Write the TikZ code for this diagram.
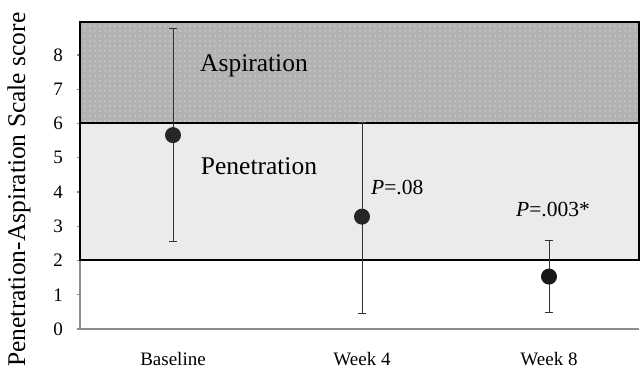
\documentclass[tikz,border=0pt]{standalone}
\usepackage{fontspec}
\setmainfont{Liberation Serif}
\usetikzlibrary{arrows.meta,patterns.meta}
\definecolor{aspfill}{HTML}{B2B2B2}
\definecolor{penfill}{HTML}{EBEBEB}
\definecolor{axisgray}{HTML}{8C8C8C}
\definecolor{markfill}{HTML}{262626}
\tikzset{
  zoneborder/.style={draw=black,line width=2pt},
  axisline/.style={draw=axisgray,line width=1.1pt},
  errbar/.style={draw=black!80,line width=0.9pt,{Bar[width=8pt,line width=0.9pt]}-{Bar[width=8pt,line width=0.9pt]}},
  dotmark/.style={circle,fill=markfill,inner sep=0pt,minimum size=16pt},
  bigtext/.style={font=\fontsize{25.5}{28}\selectfont,inner sep=0pt},
  ptext/.style={font=\fontsize{21.5}{24}\selectfont,inner sep=0pt,anchor=west},
  ticktext/.style={font=\fontsize{19}{22}\selectfont,inner sep=0pt},
}
\begin{document}
\begin{tikzpicture}[x=1pt,y=34.25pt]
\useasboundingbox[fill=white] (0,-1.2263) rectangle (641,9.6058);
% zones
\fill[aspfill] (80,6) rectangle (639,8.96);
\fill[pattern={Dots[distance=5pt,radius=0.6pt]},pattern color=white!85!aspfill] (80,6) rectangle (639,8.96);
\fill[penfill] (80,2) rectangle (639,6);
% axes
\draw[axisline] (80,0) -- (639,0);
\draw[axisline] (80,0) -- (80,8.96);
\foreach \v in {0,...,8}{
  \draw[axisline] (76.5,\v) -- (80,\v);
  \node[ticktext] (t\v) at (58,\v) {\v};
}
% zone borders
\draw[zoneborder] (80,2) rectangle (639,8.96);
\draw[zoneborder] (80,6) -- (639,6);
% error bars
\coordinate (bt) at (173,8.8);
\coordinate (bb) at (173,2.53);
\coordinate (wft) at (362,6.04);
\coordinate (wfb) at (362,0.44);
\coordinate (wet) at (549,2.59);
\coordinate (web) at (549,0.48);
\draw[errbar] (bb) -- (bt);
\draw[errbar] (wfb) -- (wft);
\draw[errbar] (web) -- (wet);
% means
\node[dotmark] (mb) at (173,5.66) {};
\node[dotmark] (mf) at (362,3.28) {};
\node[dotmark,fill=black!90] (me) at (549,1.53) {};
% labels
\node[bigtext] (asp) at (254,7.68) {Aspiration};
\node[bigtext] (pen) at (259,4.76) {Penetration};
\node[ptext] (p1) at (371,4.12) {\textit{P}=.08};
\node[ptext] (p2) at (516,3.50) {\textit{P}=.003*};
\node[ticktext] (xb) at (173,-0.876) {Baseline};
\node[ticktext] (xf) at (362,-0.876) {Week 4};
\node[ticktext] (xe) at (549,-0.876) {Week 8};
\node[bigtext,rotate=90] (ylab) at (19,4.07) {Penetration-Aspiration Scale score};
\end{tikzpicture}
\end{document}
